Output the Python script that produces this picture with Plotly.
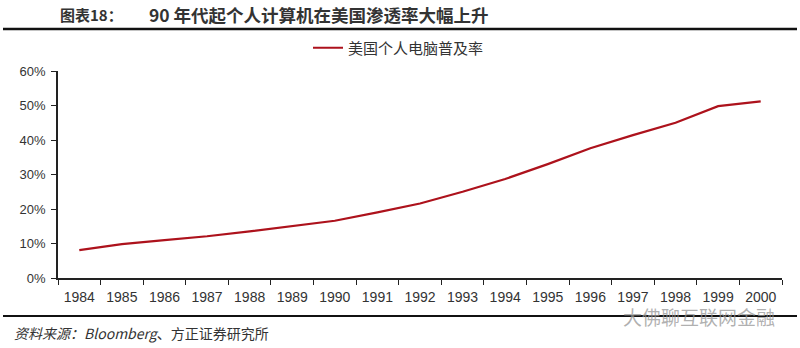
import plotly.graph_objects as go

years = [str(y) for y in range(1984, 2001)]
penetration = [8.1, 9.8, 11.0, 12.1, 13.5, 15.0, 16.6, 19.0, 21.6, 25.0, 28.7, 33.0, 37.6, 41.4, 45.0, 49.8, 51.2]
series_name = "美国个人电脑普及率"
y_ticks = [0, 10, 20, 30, 40, 50, 60]
y_labels = [f"{v}%" for v in y_ticks]

W, H = 800, 348
L, R, T, B = 58, 18, 71, 70
pw, ph = W - L - R, H - T - B

def px(x):
    return (x - L) / pw

def py(y):
    return (H - B - y) / ph

fig = go.Figure()
fig.add_trace(go.Scatter(
    x=years, y=penetration, mode="lines", name=series_name,
    line=dict(color="#ad121c", width=2.2),
))

fig.update_layout(
    width=W, height=H,
    margin=dict(l=L, r=R, t=T, b=B),
    paper_bgcolor="white", plot_bgcolor="white",
    font=dict(family="Liberation Sans, Arial", color="#333333"),
    showlegend=True,
    legend=dict(
        x=px(308), y=py(48), xanchor="left", yanchor="middle",
        orientation="h", bgcolor="rgba(0,0,0,0)",
        font=dict(family="Noto Sans CJK SC", size=15, color="#333333"),
        itemwidth=30,
    ),
    xaxis=dict(
        type="category", range=[-0.5, 16.5], tickson="boundaries",
        showline=True, linecolor="#222222", linewidth=1.5,
        ticks="outside", ticklen=5, tickcolor="#222222",
        showgrid=False, zeroline=False, ticklabelstandoff=5,
        tickfont=dict(size=14, color="#333333"),
    ),
    yaxis=dict(
        range=[0, 60], tickvals=y_ticks, ticktext=y_labels,
        showline=True, linecolor="#222222", linewidth=1.5,
        ticks="outside", ticklen=5, tickcolor="#222222",
        showgrid=False, zeroline=False, ticklabelstandoff=3,
        tickfont=dict(size=13, color="#333333"),
    ),
    shapes=[
        dict(type="line", xref="paper", yref="paper", x0=px(3), x1=px(797), y0=py(29), y1=py(29),
             line=dict(color="#111111", width=2.5)),
        dict(type="line", xref="paper", yref="paper", x0=px(3), x1=px(797), y0=py(316), y1=py(316),
             line=dict(color="#111111", width=2)),
    ],
    annotations=[
        dict(text="<b>图表18：</b>", x=px(58), y=py(15), xref="paper", yref="paper",
             xanchor="left", yanchor="middle", showarrow=False,
             font=dict(family="Noto Sans CJK SC", size=15, color="#333333")),
        dict(text="<b>90 年代起个人计算机在美国渗透率大幅上升</b>", x=px(147), y=py(15), xref="paper", yref="paper",
             xanchor="left", yanchor="middle", showarrow=False,
             font=dict(family="Noto Sans CJK SC", size=17.5, color="#333333")),
        dict(text="<i>资料来源：Bloomberg</i>、方正证券研究所", x=px(12), y=py(333), xref="paper", yref="paper",
             xanchor="left", yanchor="middle", showarrow=False,
             font=dict(family="Noto Sans CJK SC", size=14, color="#333333")),
        dict(text="大佛聊互联网金融", x=px(777), y=py(316), xref="paper", yref="paper",
             xanchor="right", yanchor="middle", showarrow=False,
             font=dict(family="Noto Sans CJK SC", size=19, color="rgba(150,150,150,0.75)")),
    ],
)

fig.write_html("out.html")
